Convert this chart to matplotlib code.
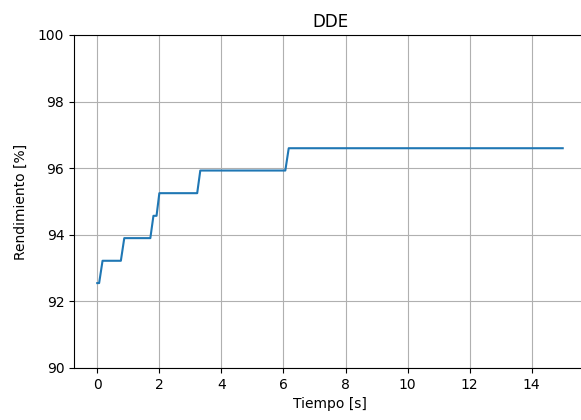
import matplotlib
matplotlib.use('Agg')
import matplotlib.pyplot as plt

# tiempo [s] y rendimiento [%]
tiempo = [0.0, 0.06, 0.17, 0.76, 0.87, 1.71, 1.81, 1.91, 2.0, 3.22, 3.32, 6.06, 6.17, 15.0]
rendimiento = [92.55, 92.55, 93.22, 93.22, 93.9, 93.9, 94.57, 94.57, 95.25, 95.25, 95.93, 95.93, 96.6, 96.6]

fig = plt.figure(figsize=(5.81, 4.2), dpi=100)
W, H = 581, 420
ax = fig.add_axes([74 / W, 1 - 368 / H, (586 - 74) / W, (368 - 35) / H])

ax.plot(tiempo, rendimiento)
ax.set_ylim(90, 100)
ax.set_xticks(range(0, 15, 2))
ax.grid(True)

ax.set_title('DDE')
ax.set_xlabel('Tiempo [s]')
ax.set_ylabel('Rendimiento [%]', labelpad=7.5)

plt.savefig('out.png', dpi=100)
plt.close()
